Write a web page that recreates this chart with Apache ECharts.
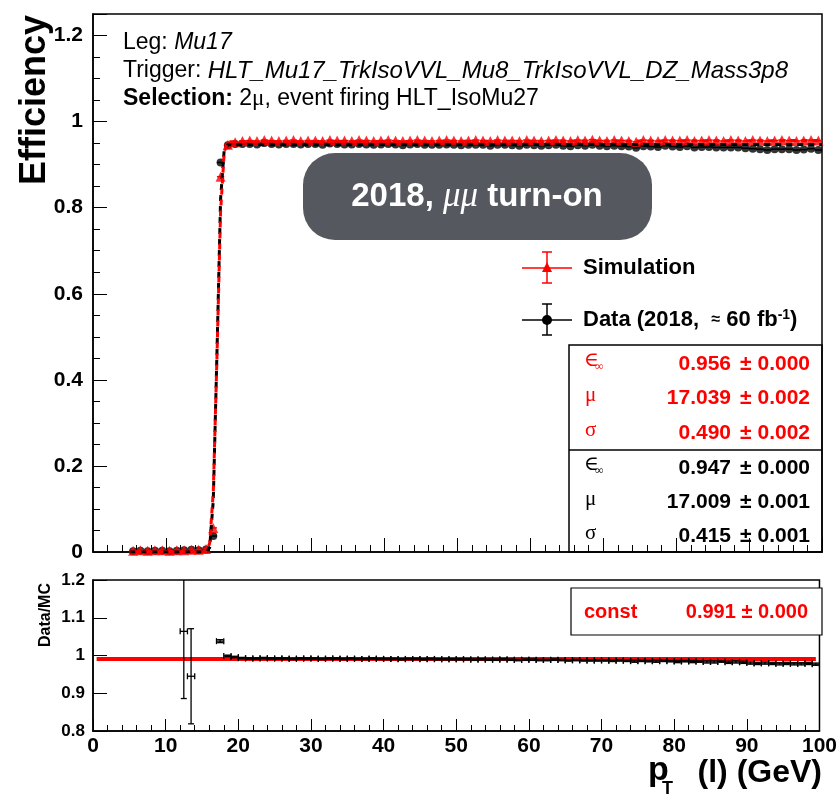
<!DOCTYPE html>
<html>
<head>
<meta charset="utf-8">
<script src="https://cdn.jsdelivr.net/npm/echarts@6/dist/echarts.min.js"></script>
<style>
  html, body { margin: 0; padding: 0; background: #fff; }
  #main { width: 840px; height: 797px; }
</style>
</head>
<body>
<div id="main"></div>
<script>
// bin centres (GeV), 1 GeV bins
var pt = [5.5, 6.5, 7.5, 8.5, 9.5, 10.5, 11.5, 12.5, 13.5, 14.5, 15.5, 16.5, 17.5, 18.5, 19.5,
  20.5, 21.5, 22.5, 23.5, 24.5, 25.5, 26.5, 27.5, 28.5, 29.5,
  30.5, 31.5, 32.5, 33.5, 34.5, 35.5, 36.5, 37.5, 38.5, 39.5,
  40.5, 41.5, 42.5, 43.5, 44.5, 45.5, 46.5, 47.5, 48.5, 49.5,
  50.5, 51.5, 52.5, 53.5, 54.5, 55.5, 56.5, 57.5, 58.5, 59.5,
  60.5, 61.5, 62.5, 63.5, 64.5, 65.5, 66.5, 67.5, 68.5, 69.5,
  70.5, 71.5, 72.5, 73.5, 74.5, 75.5, 76.5, 77.5, 78.5, 79.5,
  80.5, 81.5, 82.5, 83.5, 84.5, 85.5, 86.5, 87.5, 88.5, 89.5,
  90.5, 91.5, 92.5, 93.5, 94.5, 95.5, 96.5, 97.5, 98.5, 99.5];
var halfBin = 0.5;

// simulation efficiency (red)
var mcEff = [0.003, 0.004, 0.003, 0.004, 0.004, 0.003, 0.004, 0.004, 0.005, 0.005, 0.007, 0.056, 0.872, 0.946, 0.952,
  0.955, 0.956, 0.955, 0.957, 0.956, 0.955, 0.956, 0.957, 0.955, 0.956,
  0.956, 0.955, 0.957, 0.956, 0.956, 0.955, 0.957, 0.956, 0.955, 0.956,
  0.957, 0.956, 0.955, 0.956, 0.957, 0.956, 0.955, 0.956, 0.957, 0.956,
  0.955, 0.956, 0.957, 0.956, 0.955, 0.957, 0.956, 0.956, 0.955, 0.957,
  0.956, 0.955, 0.956, 0.957, 0.956, 0.955, 0.957, 0.956, 0.958, 0.956,
  0.955, 0.957, 0.956, 0.955, 0.953, 0.957, 0.956, 0.955, 0.957, 0.956,
  0.956, 0.957, 0.955, 0.956, 0.957, 0.956, 0.955, 0.957, 0.956, 0.955,
  0.957, 0.956, 0.955, 0.956, 0.957, 0.956, 0.955, 0.956, 0.957, 0.956];

// data efficiency (black)
var dataEff = [0.002, 0.003, 0.002, 0.003, 0.003, 0.002, 0.003, 0.004, 0.005, 0.004, 0.006, 0.037, 0.905, 0.945, 0.948,
  0.948, 0.948, 0.947, 0.950, 0.948, 0.947, 0.948, 0.948, 0.947, 0.948,
  0.948, 0.946, 0.949, 0.948, 0.947, 0.947, 0.948, 0.947, 0.946, 0.947,
  0.948, 0.947, 0.945, 0.947, 0.948, 0.946, 0.946, 0.946, 0.947, 0.946,
  0.945, 0.946, 0.946, 0.946, 0.944, 0.946, 0.946, 0.945, 0.944, 0.946,
  0.945, 0.944, 0.945, 0.946, 0.944, 0.943, 0.945, 0.944, 0.946, 0.944,
  0.943, 0.944, 0.943, 0.942, 0.939, 0.943, 0.942, 0.941, 0.944, 0.942,
  0.941, 0.943, 0.940, 0.941, 0.941, 0.940, 0.940, 0.940, 0.940, 0.938,
  0.937, 0.936, 0.934, 0.936, 0.936, 0.936, 0.934, 0.935, 0.937, 0.934];

// fitted turn-on curves
var fitPt = [5, 15.5, 16, 16.5, 17, 17.5, 18, 18.5, 100];
var fitData = [0, 0, 0.01, 0.12, 0.46, 0.82, 0.935, 0.946, 0.947];
var fitMc = [0, 0, 0.02, 0.14, 0.45, 0.79, 0.93, 0.953, 0.956];

// ratio panel (Data/MC)
var ratioPt = [12.5, 13.5, 17.5, 18.5, 19.5,
  20.5, 21.5, 22.5, 23.5, 24.5, 25.5, 26.5, 27.5, 28.5, 29.5,
  30.5, 31.5, 32.5, 33.5, 34.5, 35.5, 36.5, 37.5, 38.5, 39.5,
  40.5, 41.5, 42.5, 43.5, 44.5, 45.5, 46.5, 47.5, 48.5, 49.5,
  50.5, 51.5, 52.5, 53.5, 54.5, 55.5, 56.5, 57.5, 58.5, 59.5,
  60.5, 61.5, 62.5, 63.5, 64.5, 65.5, 66.5, 67.5, 68.5, 69.5,
  70.5, 71.5, 72.5, 73.5, 74.5, 75.5, 76.5, 77.5, 78.5, 79.5,
  80.5, 81.5, 82.5, 83.5, 84.5, 85.5, 86.5, 87.5, 88.5, 89.5,
  90.5, 91.5, 92.5, 93.5, 94.5, 95.5, 96.5, 97.5, 98.5, 99.5];
var ratioVal = [1.064, 0.945, 1.038, 0.999, 0.996,
  0.993, 0.992, 0.992, 0.993, 0.992, 0.992, 0.992, 0.991, 0.992, 0.992,
  0.992, 0.991, 0.992, 0.992, 0.991, 0.992, 0.991, 0.991, 0.992, 0.991,
  0.991, 0.991, 0.990, 0.991, 0.991, 0.990, 0.991, 0.990, 0.990, 0.990,
  0.990, 0.990, 0.989, 0.990, 0.989, 0.989, 0.990, 0.989, 0.988, 0.989,
  0.989, 0.988, 0.988, 0.989, 0.988, 0.987, 0.988, 0.987, 0.987, 0.987,
  0.987, 0.986, 0.987, 0.986, 0.985, 0.986, 0.985, 0.985, 0.986, 0.985,
  0.984, 0.985, 0.984, 0.984, 0.983, 0.983, 0.984, 0.982, 0.983, 0.982,
  0.980, 0.979, 0.980, 0.979, 0.978, 0.979, 0.978, 0.978, 0.979, 0.977];
var ratioErr = [0.178, 0.126, 0.004, 0.002, 0.002,
  0.002, 0.002, 0.002, 0.002, 0.002, 0.002, 0.002, 0.002, 0.002, 0.002,
  0.002, 0.002, 0.002, 0.002, 0.002, 0.002, 0.002, 0.002, 0.002, 0.002,
  0.002, 0.002, 0.002, 0.002, 0.002, 0.002, 0.002, 0.002, 0.002, 0.002,
  0.002, 0.002, 0.002, 0.002, 0.002, 0.002, 0.002, 0.002, 0.002, 0.002,
  0.002, 0.002, 0.002, 0.002, 0.002, 0.002, 0.002, 0.002, 0.002, 0.002,
  0.002, 0.002, 0.002, 0.002, 0.003, 0.002, 0.002, 0.003, 0.002, 0.002,
  0.003, 0.002, 0.003, 0.002, 0.003, 0.003, 0.002, 0.003, 0.003, 0.003,
  0.003, 0.003, 0.003, 0.003, 0.003, 0.003, 0.003, 0.003, 0.003, 0.003];
var ratioFitPt = [0.5, 99.5];
var ratioFitVal = [0.991, 0.991];

// fit result texts
var mcVals = ['0.956', '17.039', '0.490'];
var mcErrs = ['± 0.000', '± 0.002', '± 0.002'];
var dataVals = ['0.947', '17.009', '0.415'];
var dataErrs = ['± 0.000', '± 0.001', '± 0.001'];
var constPar = '0.991 ± 0.000';

var FONT = '"Liberation Sans", Helvetica, Arial, sans-serif';
var SERIF = '"Liberation Serif", "DejaVu Serif", serif';

function pairs(xs, ys) {
  return xs.map(function (x, i) { return [x, ys[i]]; });
}
function triples(xs, ys, es) {
  return xs.map(function (x, i) { return [x, ys[i], es[i]]; });
}

function xBars(color) {
  return function (params, api) {
    var x = api.value(0), y = api.value(1);
    var a = api.coord([x - halfBin, y]);
    var b = api.coord([x + halfBin, y]);
    return {
      type: 'line',
      shape: { x1: a[0], y1: a[1], x2: b[0], y2: b[1] },
      style: { stroke: color, lineWidth: 1.5 }
    };
  };
}

function ratioBars(params, api) {
  var x = api.value(0), y = api.value(1), e = api.value(2);
  var a = api.coord([x - halfBin, y]);
  var b = api.coord([x + halfBin, y]);
  var lo = api.coord([x, y - e]);
  var hi = api.coord([x, y + e]);
  var st = { stroke: '#000', lineWidth: 1.3 };
  var c = 3;
  return {
    type: 'group',
    children: [
      { type: 'line', shape: { x1: a[0], y1: a[1], x2: b[0], y2: b[1] }, style: st },
      { type: 'line', shape: { x1: a[0], y1: a[1] - c, x2: a[0], y2: a[1] + c }, style: st },
      { type: 'line', shape: { x1: b[0], y1: b[1] - c, x2: b[0], y2: b[1] + c }, style: st },
      { type: 'line', shape: { x1: lo[0], y1: lo[1], x2: hi[0], y2: hi[1] }, style: st },
      { type: 'line', shape: { x1: lo[0] - c, y1: lo[1], x2: lo[0] + c, y2: lo[1] }, style: st },
      { type: 'line', shape: { x1: hi[0] - c, y1: hi[1], x2: hi[0] + c, y2: hi[1] }, style: st }
    ]
  };
}

// one row of the fit-result box
function parRow(sym, val, err, y, color) {
  var items = [
    { type: 'text', x: 731, y: y, z: 10,
      style: { text: val, font: 'bold 21px ' + FONT, fill: color, align: 'right', verticalAlign: 'middle' } },
    { type: 'text', x: 810, y: y, z: 10,
      style: { text: err, font: 'bold 21px ' + FONT, fill: color, align: 'right', verticalAlign: 'middle' } }
  ];
  if (sym === 'eps') {
    items.push({ type: 'text', x: 584, y: y - 3, z: 10, style: { text: '∈', font: '20px ' + SERIF, fill: color, verticalAlign: 'middle' } });
    items.push({ type: 'text', x: 595, y: y + 3, z: 10, style: { text: '∞', font: '12px ' + SERIF, fill: color, verticalAlign: 'middle' } });
  } else {
    items.push({ type: 'text', x: 585, y: y - 3, z: 10, style: { text: sym, font: '21px ' + SERIF, fill: color, verticalAlign: 'middle' } });
  }
  return items;
}

var chart = echarts.init(document.getElementById('main'), null, { renderer: 'canvas' });

var axisLine = { show: true, lineStyle: { color: '#000', width: 1.5 } };

var graphics = [
  // axis titles
  { type: 'text', x: 35, y: 100, rotation: Math.PI / 2,
    style: { text: 'Efficiency', font: 'bold 36px ' + FONT, fill: '#000', align: 'center', verticalAlign: 'middle' } },
  { type: 'text', x: 46, y: 615, rotation: Math.PI / 2,
    style: { text: 'Data/MC', font: 'bold 16px ' + FONT, fill: '#000', align: 'center', verticalAlign: 'middle' } },
  { type: 'text', x: 822, y: 773,
    style: { text: '(l) (GeV)', font: 'bold 32px ' + FONT, fill: '#000', align: 'right', verticalAlign: 'middle' } },
  { type: 'text', x: 648, y: 771,
    style: { text: 'p', font: 'bold 34px ' + FONT, fill: '#000', align: 'left', verticalAlign: 'middle' } },
  { type: 'text', x: 662, y: 789,
    style: { text: 'T', font: 'bold 18px ' + FONT, fill: '#000', align: 'left', verticalAlign: 'middle' } },

  // header lines
  { type: 'text', x: 123, y: 43,
    style: { text: '{a|Leg: }{b|Mu17}', verticalAlign: 'middle',
      rich: { a: { fontFamily: FONT, fontSize: 23, fill: '#000' }, b: { fontFamily: FONT, fontSize: 23, fontStyle: 'italic', fill: '#000' } } } },
  { type: 'text', x: 123, y: 71,
    style: { text: '{a|Trigger: }{b|HLT_Mu17_TrkIsoVVL_Mu8_TrkIsoVVL_DZ_Mass3p8}', verticalAlign: 'middle',
      rich: { a: { fontFamily: FONT, fontSize: 23, fill: '#000' }, b: { fontFamily: FONT, fontSize: 24, fontStyle: 'italic', fill: '#000' } } } },
  { type: 'text', x: 123, y: 99,
    style: { text: '{a|Selection: }{b|2}{c|μ}{b|, event firing HLT_IsoMu27}', verticalAlign: 'middle',
      rich: { a: { fontFamily: FONT, fontSize: 23, fontWeight: 'bold', fill: '#000' }, b: { fontFamily: FONT, fontSize: 23, fill: '#000' }, c: { fontFamily: SERIF, fontSize: 23, fill: '#000' } } } },

  // rounded label
  { type: 'rect', shape: { x: 303, y: 153, width: 349, height: 87, r: 32 },
    style: { fill: '#55595f' } },
  { type: 'text', x: 477, y: 197,
    style: { text: '{a|2018, }{b|μμ}{a| turn-on}', align: 'center', verticalAlign: 'middle',
      rich: { a: { fontFamily: FONT, fontSize: 33, fontWeight: 'bold', fill: '#fff' }, b: { fontFamily: SERIF, fontSize: 35, fontStyle: 'italic', fill: '#fff' } } } },

  // legend: simulation
  { type: 'line', shape: { x1: 522, y1: 268, x2: 572, y2: 268 }, style: { stroke: '#ff0000', lineWidth: 1.5 } },
  { type: 'line', shape: { x1: 547, y1: 252, x2: 547, y2: 283 }, style: { stroke: '#ff0000', lineWidth: 1.5 } },
  { type: 'line', shape: { x1: 542, y1: 252, x2: 552, y2: 252 }, style: { stroke: '#ff0000', lineWidth: 1.5 } },
  { type: 'line', shape: { x1: 542, y1: 283, x2: 552, y2: 283 }, style: { stroke: '#ff0000', lineWidth: 1.5 } },
  { type: 'polygon', shape: { points: [[547, 262], [552, 272], [542, 272]] }, style: { fill: '#ff0000' } },
  { type: 'text', x: 583, y: 268,
    style: { text: 'Simulation', font: 'bold 22px ' + FONT, fill: '#000', verticalAlign: 'middle' } },

  // legend: data
  { type: 'line', shape: { x1: 522, y1: 320, x2: 572, y2: 320 }, style: { stroke: '#000', lineWidth: 1.5 } },
  { type: 'line', shape: { x1: 547, y1: 304, x2: 547, y2: 335 }, style: { stroke: '#000', lineWidth: 1.5 } },
  { type: 'line', shape: { x1: 542, y1: 304, x2: 552, y2: 304 }, style: { stroke: '#000', lineWidth: 1.5 } },
  { type: 'line', shape: { x1: 542, y1: 335, x2: 552, y2: 335 }, style: { stroke: '#000', lineWidth: 1.5 } },
  { type: 'circle', shape: { cx: 547, cy: 320, r: 5 }, style: { fill: '#000' } },
  { type: 'text', x: 583, y: 320,
    style: { text: '{a|Data (2018,  }{s|≈}{a| 60 fb}{u|-1}{a|)}', verticalAlign: 'middle',
      rich: { a: { fontFamily: FONT, fontSize: 22, fontWeight: 'bold', fill: '#000' }, s: { fontFamily: FONT, fontSize: 16, fontWeight: 'bold', fill: '#000' },
        u: { fontFamily: FONT, fontSize: 14, fontWeight: 'bold', fill: '#000', verticalAlign: 'top', padding: [0, 0, 10, 0] } } } },

  // fit parameter boxes
  { type: 'rect', shape: { x: 569, y: 345, width: 253, height: 207 }, style: { fill: 'none', stroke: '#000', lineWidth: 1.5 }, z: 10 },
  { type: 'line', shape: { x1: 569, y1: 450, x2: 822, y2: 450 }, style: { stroke: '#000', lineWidth: 1.5 }, z: 10 },

  // ratio fit box
  { type: 'rect', shape: { x: 571, y: 588, width: 251, height: 47 }, style: { fill: '#fff', stroke: '#000', lineWidth: 1.2 }, z: 10 },
  { type: 'text', x: 584, y: 612, style: { text: 'const', font: 'bold 20px ' + FONT, fill: '#ff0000', verticalAlign: 'middle' }, z: 11 },
  { type: 'text', x: 808, y: 612, style: { text: constPar, font: 'bold 20px ' + FONT, fill: '#ff0000', align: 'right', verticalAlign: 'middle' }, z: 11 }
];

var syms = ['eps', 'μ', 'σ'];
var mcRowY = [364, 398, 433];
var dataRowY = [468, 502, 536];
for (var i = 0; i < 3; i++) {
  graphics = graphics.concat(parRow(syms[i], mcVals[i], mcErrs[i], mcRowY[i], '#ff0000'));
  graphics = graphics.concat(parRow(syms[i], dataVals[i], dataErrs[i], dataRowY[i], '#000'));
}

var option = {
  animation: false,
  backgroundColor: '#fff',
  grid: [
    { left: 93, top: 14, width: 729, height: 538, show: true, borderColor: '#000', borderWidth: 1.5 },
    { left: 93, top: 580, width: 729, height: 151, show: true, borderColor: '#000', borderWidth: 1.5 }
  ],
  xAxis: [
    {
      gridIndex: 0, type: 'value', min: 0, max: 100, interval: 10,
      axisLine: axisLine,
      axisTick: { inside: true, length: 14, lineStyle: { color: '#000', width: 1 } },
      minorTick: { show: true, splitNumber: 5, length: 7, lineStyle: { color: '#000', width: 1 } },
      axisLabel: { show: false },
      splitLine: { show: false }
    },
    {
      gridIndex: 1, type: 'value', min: 0, max: 100, interval: 10,
      axisLine: axisLine,
      axisTick: { inside: true, length: 12, lineStyle: { color: '#000', width: 1 } },
      minorTick: { show: true, splitNumber: 5, length: 6, lineStyle: { color: '#000', width: 1 } },
      axisLabel: { color: '#000', fontFamily: FONT, fontWeight: 'bold', fontSize: 21, margin: 5 },
      splitLine: { show: false }
    }
  ],
  yAxis: [
    {
      gridIndex: 0, type: 'value', min: 0, max: 1.25, interval: 0.2,
      axisLine: axisLine,
      axisTick: { inside: true, length: 14, lineStyle: { color: '#000', width: 1 } },
      minorTick: { show: true, splitNumber: 4, length: 7, lineStyle: { color: '#000', width: 1 } },
      axisLabel: { color: '#000', fontFamily: FONT, fontWeight: 'bold', fontSize: 21, margin: 10, showMaxLabel: false },
      splitLine: { show: false }
    },
    {
      gridIndex: 1, type: 'value', min: 0.8, max: 1.2, interval: 0.1,
      axisLine: axisLine,
      axisTick: { inside: true, length: 14, lineStyle: { color: '#000', width: 1 } },
      axisLabel: { color: '#000', fontFamily: FONT, fontWeight: 'bold', fontSize: 17, margin: 8 },
      splitLine: { show: false }
    }
  ],
  series: [
    {
      type: 'custom', xAxisIndex: 0, yAxisIndex: 0, clip: true,
      data: pairs(pt, dataEff), renderItem: xBars('#000'), z: 2
    },
    {
      type: 'scatter', xAxisIndex: 0, yAxisIndex: 0,
      data: pairs(pt, dataEff), symbol: 'circle', symbolSize: 8,
      itemStyle: { color: '#000' }, z: 3
    },
    {
      type: 'custom', xAxisIndex: 0, yAxisIndex: 0, clip: true,
      data: pairs(pt, mcEff), renderItem: xBars('#ff0000'), z: 4
    },
    {
      type: 'scatter', xAxisIndex: 0, yAxisIndex: 0,
      data: pairs(pt, mcEff), symbol: 'triangle', symbolSize: 10,
      itemStyle: { color: '#ff0000' }, z: 5
    },
    {
      type: 'line', xAxisIndex: 0, yAxisIndex: 0, data: pairs(fitPt, fitData),
      showSymbol: false, symbol: 'none',
      lineStyle: { color: '#000', width: 3, type: [6, 5] }, z: 6
    },
    {
      type: 'line', xAxisIndex: 0, yAxisIndex: 0, data: pairs(fitPt, fitMc),
      showSymbol: false, symbol: 'none',
      lineStyle: { color: '#ff0000', width: 3, type: [6, 5], dashOffset: 5 }, z: 7
    },
    {
      type: 'line', xAxisIndex: 1, yAxisIndex: 1, data: pairs(ratioFitPt, ratioFitVal),
      showSymbol: false, symbol: 'none',
      lineStyle: { color: '#ff0000', width: 4 }, z: 2
    },
    {
      type: 'custom', xAxisIndex: 1, yAxisIndex: 1, clip: true,
      data: triples(ratioPt, ratioVal, ratioErr), renderItem: ratioBars, z: 3
    }
  ],
  graphic: graphics
};

chart.setOption(option);
</script>
</body>
</html>
